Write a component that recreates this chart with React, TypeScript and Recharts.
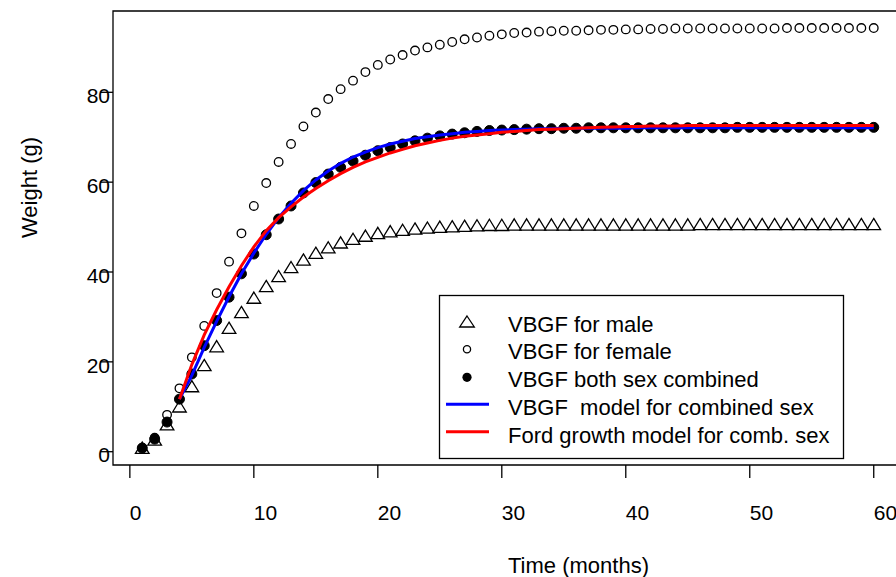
import React from 'react';
import { ComposedChart, XAxis, YAxis, Scatter, ReferenceArea } from 'recharts';

const months = [1,2,3,4,5,6,7,8,9,10,11,12,13,14,15,16,17,18,19,20,21,22,23,24,25,26,27,28,29,30,31,32,33,34,35,36,37,38,39,40,41,42,43,44,45,46,47,48,49,50,51,52,53,54,55,56,57,58,59,60];

const male = [0.8,2.6,6.0,10.0,14.5,19.2,23.4,27.5,31.0,34.2,36.8,39.0,41.0,42.7,44.2,45.4,46.5,47.3,48.0,48.6,49.0,49.3,49.6,49.8,50.0,50.1,50.2,50.3,50.4,50.4,50.5,50.5,50.5,50.5,50.5,50.5,50.5,50.5,50.5,50.5,50.5,50.5,50.5,50.5,50.5,50.6,50.6,50.6,50.6,50.6,50.6,50.6,50.6,50.6,50.6,50.6,50.6,50.6,50.6,50.6];

const female = [0.9,3.1,8.2,14.1,21.0,28.0,35.3,42.3,48.6,54.7,59.8,64.5,68.5,72.4,75.5,78.5,80.7,82.6,84.5,86.1,87.3,88.3,89.3,90.0,90.6,91.2,91.8,92.2,92.6,92.9,93.2,93.3,93.5,93.6,93.7,93.7,93.8,93.9,93.9,94.0,94.0,94.1,94.1,94.2,94.2,94.2,94.2,94.2,94.2,94.2,94.2,94.2,94.3,94.3,94.3,94.3,94.3,94.3,94.3,94.3];

const combined = [0.8,2.8,6.6,11.7,17.3,23.6,29.2,34.4,39.6,44.0,48.3,51.8,54.7,57.6,59.9,61.8,63.3,64.7,66.0,67.0,67.7,68.5,69.2,69.8,70.3,70.7,71.0,71.3,71.5,71.6,71.7,71.8,71.9,71.9,72.0,72.0,72.1,72.1,72.1,72.1,72.1,72.1,72.1,72.1,72.1,72.1,72.1,72.1,72.2,72.2,72.2,72.2,72.2,72.2,72.2,72.2,72.2,72.2,72.2,72.2];

const vbgfModel = [null,null,null,11.7,17.0,23.2,29.0,34.5,39.6,44.2,48.4,52.1,55.3,58.1,60.5,62.5,64.2,65.6,66.7,67.7,68.5,69.1,69.7,70.1,70.5,70.8,71.1,71.3,71.5,71.6,71.7,71.8,71.9,71.9,72.0,72.0,72.0,72.0,72.0,72.0,72.1,72.1,72.1,72.1,72.1,72.1,72.1,72.1,72.1,72.1,72.1,72.1,72.1,72.1,72.1,72.1,72.1,72.1,72.1,72.1];

const fordModel = [null,null,null,11.7,19.4,26.0,31.6,36.7,41.4,45.6,49.2,52.1,54.5,56.7,58.6,60.3,61.9,63.3,64.5,65.5,66.5,67.3,68.1,68.7,69.3,69.8,70.2,70.5,70.8,71.1,71.3,71.5,71.7,71.8,71.9,72.0,72.1,72.2,72.3,72.4,72.4,72.5,72.5,72.5,72.6,72.6,72.6,72.6,72.6,72.6,72.6,72.6,72.6,72.6,72.6,72.6,72.6,72.6,72.6,72.6];

const xTicks = [0, 10, 20, 30, 40, 50, 60];
const yTicks = [0, 20, 40, 60, 80];

const legendLabels = [
  'VBGF for male',
  'VBGF for female',
  'VBGF both sex combined',
  'VBGF  model for combined sex',
  'Ford growth model for comb. sex',
];

const rows = months.map((t, i) => ({
  t,
  male: male[i],
  female: female[i],
  combined: combined[i],
}));

const vbgfRows = months
  .map((t, i) => ({ t, vbgf: vbgfModel[i] }))
  .filter((r) => r.vbgf != null);
const fordRows = months
  .map((t, i) => ({ t, ford: fordModel[i] }))
  .filter((r) => r.ford != null);

const FONT = '"Liberation Sans", Arial, Helvetica, sans-serif';

const TriangleShape = (p: any) => {
  const { cx, cy } = p;
  if (cx == null || cy == null) return null;
  return <path d={`M${cx},${cy - 6} L${cx + 6.8},${cy + 5.2} L${cx - 6.8},${cy + 5.2} Z`} fill="none" stroke="#000" strokeWidth={1.3} />;
};
const OpenCircle = (p: any) => {
  const { cx, cy } = p;
  if (cx == null || cy == null) return null;
  return <circle cx={cx} cy={cy} r={4.3} fill="none" stroke="#000" strokeWidth={1.3} />;
};
const FilledCircle = (p: any) => {
  const { cx, cy } = p;
  if (cx == null || cy == null) return null;
  return <circle cx={cx} cy={cy} r={5} fill="#000" stroke="#000" strokeWidth={1} />;
};
const NoDot = () => <g />;

const XTick = (p: any) => (
  <text x={p.x} y={p.y + 40} textAnchor="start" fontSize={21} fontFamily={FONT} fill="#000">
    {p.payload.value}
  </text>
);
const YTick = (p: any) => (
  <text x={p.x + 12} y={p.y + 10.7} textAnchor="end" fontSize={21} fontFamily={FONT} fill="#000">
    {p.payload.value}
  </text>
);

export default function App() {
  const rowY = [331.5, 359.2, 387, 414.7, 442.5];
  return (
    <div style={{ position: 'fixed', left: 0, top: 0, width: 896, height: 577, overflow: 'hidden', background: '#fff' }}>
      <ComposedChart width={920} height={577} data={rows} margin={{ top: 11, right: 17, left: 0, bottom: 0 }}>
        <XAxis
          type="number"
          dataKey="t"
          domain={[-1.36, 62.36]}
          ticks={xTicks}
          allowDataOverflow
          axisLine={false}
          tickLine={{ stroke: '#000', strokeWidth: 1.3 }}
          tickSize={13}
          tick={XTick}
          height={112}
        />
        <YAxis
          type="number"
          domain={[-2.96, 98.1]}
          ticks={yTicks}
          allowDataOverflow
          axisLine={false}
          tickLine={{ stroke: '#000', strokeWidth: 1.3 }}
          tickSize={13}
          tick={YTick}
          width={113}
        />
        <ReferenceArea x1={-1.36} x2={62.36} y1={-2.96} y2={98.1} fill="none" fillOpacity={0} stroke="#000" strokeWidth={1.3} />
        <Scatter dataKey="male" shape={TriangleShape} isAnimationActive={false} />
        <Scatter dataKey="female" shape={OpenCircle} isAnimationActive={false} />
        <Scatter dataKey="combined" shape={FilledCircle} isAnimationActive={false} />
        <Scatter data={vbgfRows} dataKey="vbgf" shape={NoDot} line={{ stroke: '#0000FF', strokeWidth: 3, fill: 'none' }} lineType="joint" isAnimationActive={false} />
        <Scatter data={fordRows} dataKey="ford" shape={NoDot} line={{ stroke: '#FF0000', strokeWidth: 3, fill: 'none' }} lineType="joint" isAnimationActive={false} />
      </ComposedChart>
      <svg width={896} height={577} style={{ position: 'absolute', left: 0, top: 0, pointerEvents: 'none' }}>
        <text x={508} y={573} fontSize={22} fontFamily={FONT} fill="#000">Time (months)</text>
        <text x={0} y={0} transform="translate(37,238) rotate(-90)" fontSize={22} fontFamily={FONT} fill="#000">Weight (g)</text>
        <rect x={439.5} y={295.5} width={404} height={163} fill="#fff" stroke="#000" strokeWidth={1.3} />
        <path d={`M467,316 L474.3,327 L459.7,327 Z`} fill="none" stroke="#000" strokeWidth={1.3} />
        <circle cx={467} cy={349.3} r={3.6} fill="none" stroke="#000" strokeWidth={1.3} />
        <circle cx={467} cy={377.3} r={4.6} fill="#000" />
        <line x1={446} x2={489} y1={404.3} y2={404.3} stroke="#0000FF" strokeWidth={3} />
        <line x1={446} x2={489} y1={431.7} y2={431.7} stroke="#FF0000" strokeWidth={3} />
        {legendLabels.map((s, i) => (
          <text key={s} x={508} y={rowY[i]} fontSize={22} fontFamily={FONT} fill="#000" style={{ whiteSpace: 'pre' }}>{s}</text>
        ))}
      </svg>
    </div>
  );
}
